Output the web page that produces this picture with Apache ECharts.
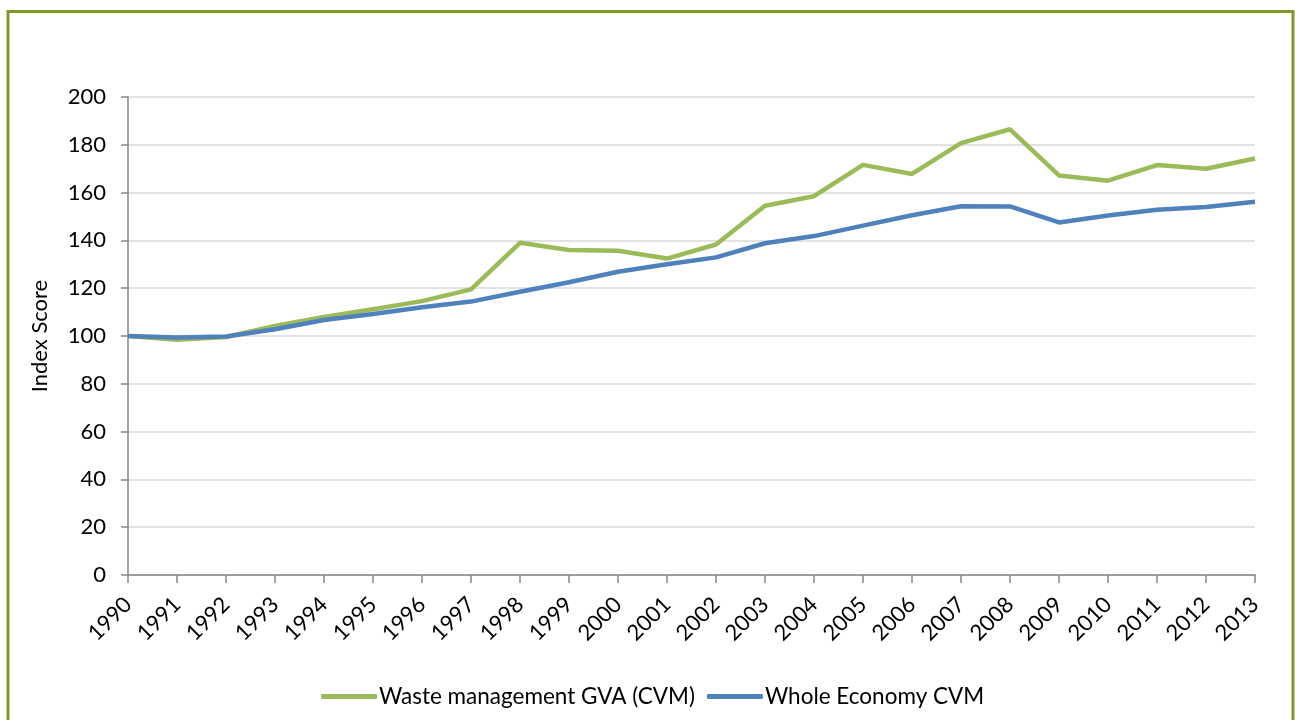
<!DOCTYPE html>
<html>
<head>
<meta charset="utf-8">
<script src="https://cdn.jsdelivr.net/npm/echarts@6/dist/echarts.min.js"></script>
<style>
html,body{margin:0;padding:0;background:#fff;}
#chart{width:1295px;height:720px;}
</style>
</head>
<body>
<div id="chart"></div>
<script>
const years = ['1990','1991','1992','1993','1994','1995','1996','1997','1998','1999','2000','2001','2002','2003','2004','2005','2006','2007','2008','2009','2010','2011','2012','2013'];
const wasteGVA = [100,98.4,99.6,104.2,108,111.2,114.6,119.5,139,136,135.7,132.4,138.3,154.5,158.5,171.6,167.8,180.7,186.5,167.2,165,171.5,170,174.3];
const wholeEconomy = [100,99.4,99.8,102.8,106.7,109.2,112,114.4,118.5,122.5,126.9,130,132.9,138.8,141.8,146.2,150.5,154.3,154.2,147.5,150.4,152.8,154,156.2];
const yTicks = {min:0, max:200, interval:20};
const seriesNames = ['Waste management GVA (CVM)','Whole Economy CVM'];

const font = 'Lato, "Open Sans", sans-serif';
const chart = echarts.init(document.getElementById('chart'), null, {renderer:'canvas'});
chart.setOption({
  animation:false,
  backgroundColor:'#fff',
  graphic:[{type:'rect', shape:{x:8,y:11.5,width:1285,height:800}, style:{fill:'none',stroke:'#7f9a26',lineWidth:3}, silent:true}],
  grid:{left:128,right:40,top:97,bottom:145,containLabel:false},
  legend:{
    top:680, left:316,
    icon:'roundRect', itemWidth:56, itemHeight:5, itemGap:12,
    textStyle:{fontFamily:font,fontSize:22.5,color:'#000',padding:[0,0,0,-3]},
    data:seriesNames
  },
  xAxis:{
    type:'category', data:years, boundaryGap:false,
    axisLine:{lineStyle:{color:'#868686',width:1.5}},
    axisTick:{show:true,length:8,alignWithLabel:true,lineStyle:{color:'#868686',width:1.5}},
    axisLabel:{rotate:45,fontFamily:font,fontSize:22,color:'#000',margin:26,interval:0}
  },
  yAxis:{
    type:'value', min:yTicks.min, max:yTicks.max, interval:yTicks.interval,
    name:'Index Score', nameLocation:'middle', nameGap:77, nameRotate:90,
    nameTextStyle:{fontFamily:font,fontSize:22,color:'#000'},
    axisLine:{show:true,lineStyle:{color:'#868686',width:1.5}},
    axisTick:{show:true,length:7,lineStyle:{color:'#868686',width:1.5}},
    axisLabel:{fontFamily:font,fontSize:22,color:'#000',margin:22},
    splitLine:{lineStyle:{color:'#d9d9d9',width:1.5}}
  },
  series:[
    {name:seriesNames[0],type:'line',data:wasteGVA,symbol:'none',lineStyle:{color:'#9bbb59',width:4.5},itemStyle:{color:'#9bbb59'},z:2},
    {name:seriesNames[1],type:'line',data:wholeEconomy,symbol:'none',lineStyle:{color:'#4f81bd',width:4.5},itemStyle:{color:'#4f81bd'},z:3}
  ]
});
</script>
</body>
</html>
